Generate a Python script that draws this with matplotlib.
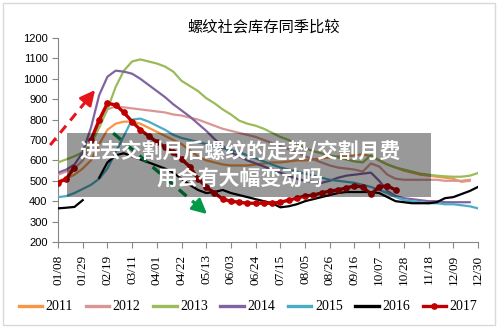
import numpy as np
import matplotlib.pyplot as plt
from matplotlib.patches import Rectangle

nan = np.nan

# weekly rebar social inventory (10k t), week 0 = 01/08
tick_labels = ['01/08', '01/29', '02/19', '03/11', '04/01', '04/22', '05/13', '06/03', '06/24',
               '07/15', '08/05', '08/26', '09/16', '10/07', '10/28', '11/18', '12/09', '12/30']

y2011 = [500, 510, 530, 560, 600, 680, 750, 780, 790, 790, 780, 760, 740, 720, 700, 680, 650,
         620, 600, 590, 580, 575, 575, 575, 580, 585, 590, 590, 595, 600, 600, 605, 610, 615,
         620, 620, 625, 630, 620, 600, 580, 565, 550, 540, 530, 525, 520, 515, 510, 495, 500, nan]
y2012 = [530, 545, 560, 600, 680, 780, 850, 865, 860, 855, 850, 845, 840, 835, 825, 820, 810,
         800, 785, 770, 755, 745, 735, 725, 715, 700, 685, 670, 655, 640, 620, 605, 590, 575,
         565, 560, 555, 545, 585, 570, 530, 510, 505, 505, 505, 505, 505, 500, 500, 500, 505, nan]
y2013 = [590, 605, 620, 640, 680, 760, 850, 960, 1040, 1085, 1095, 1085, 1075, 1060, 1035, 990,
         965, 940, 905, 880, 850, 825, 795, 780, 770, 755, 735, 715, 700, 680, 660, 645, 635,
         625, 615, 605, 595, 590, 625, 600, 580, 565, 555, 545, 535, 530, 525, 522, 520, 520,
         525, 538]
y2014 = [540, 555, 580, 640, 760, 920, 1010, 1040, 1035, 1025, 1000, 970, 940, 910, 875, 845,
         815, 780, 745, 705, 670, 640, 620, 600, 585, 570, 555, 540, 525, 510, 500, 495, 490,
         500, 515, 525, 530, 535, 540, 500, 450, 425, 415, 410, 405, 400, 400, 395, 395, 395,
         395, nan]
y2015 = [420, 425, 440, 460, 480, 510, 560, 640, 720, 800, 805, 790, 770, 750, 725, 710, 700,
         690, 680, 670, 660, 650, 640, 625, 610, 595, 580, 565, 555, 545, 535, 525, 515, 505,
         500, 495, 490, 480, 470, 455, 440, 420, 405, 400, 395, 390, 390, 385, 385, 380, 375, 365]
y2016 = [365, 368, 372, 405, nan, 515, 590, 625, 635, 620, 605, 590, 575, 560, 540, 510, 480,
         455, 440, 445, 455, 440, 430, 420, 410, 400, 390, 370, 375, 385, 400, 410, 420, 430,
         440, 445, 445, 445, 445, 440, 420, 400, 395, 390, 390, 390, 395, 415, 420, 435, 450, 470]
y2017 = [490, 510, 565, nan, 700, 798, 880, 872, 835, 790, 750, 720, 690, 665, 640, 605, 570,
         510, 470, 440, 410, 400, 395, 390, 390, 390, 390, 395, 405, 415, 425, 430, 440, 450,
         455, 465, 475, 470, 435, 470, 475, 455] + [nan] * 10

years = ['2011', '2012', '2013', '2014', '2015', '2016', '2017']
colors = ['#F79646', '#DA9694', '#9BBB59', '#8064A2', '#4BACC6', '#000000', '#C00000']

fig = plt.figure(figsize=(5.0, 3.31), dpi=100)
ax = fig.add_axes([58 / 500, 1 - 242 / 331, 420 / 500, 204 / 331])

weeks = np.arange(52)
series = [y2011, y2012, y2013, y2014, y2015, y2016, y2017]
for yr, vals, c in zip(years, series, colors):
    if yr == '2017':
        ax.plot(weeks, vals, color=c, lw=2.4, marker='o', ms=3.8, label=yr, zorder=4)
    else:
        ax.plot(weeks, vals, color=c, lw=1.6, label=yr, zorder=3)

ax.set_xlim(0, 51)
ax.set_ylim(200, 1200)
ax.set_yticks(np.arange(200, 1201, 100))
ax.set_xticks(np.arange(0, 52, 3))
ax.set_xticklabels(tick_labels, rotation=90, family='Liberation Serif', fontsize=9.5)
for lab in ax.get_yticklabels():
    lab.set_family('Liberation Sans')
    lab.set_fontsize(8)
for s in ['top', 'right']:
    ax.spines[s].set_visible(False)
for s in ['left', 'bottom']:
    ax.spines[s].set_color('#868686')
ax.tick_params(axis='both', colors='#868686', length=4, labelcolor='black')
ax.tick_params(axis='x', pad=5)

# trend arrows
head = dict(arrowstyle='-|>,head_length=0.9,head_width=0.45', lw=2, shrinkA=0, shrinkB=0)
red_start, red_tip = (-0.95, 675), (4.5, 945)
ax.plot([red_start[0], 3.6], [red_start[1], 900], ls=(0, (3, 2.2)), color='#E8141B', lw=2.2,
        clip_on=False, zorder=6)
ax.annotate('', xy=red_tip, xytext=(3.5, 895), arrowprops=dict(color='#E8141B', **head),
            annotation_clip=False, zorder=6)
green_start, green_tip = (6.7, 734), (18.1, 337)
ax.plot([green_start[0], 16.9], [green_start[1], 380], ls=(0, (3, 2.2)), color='#009A49', lw=2.4,
        zorder=6)
ax.annotate('', xy=green_tip, xytext=(16.8, 383), arrowprops=dict(color='#009A49', **head),
            zorder=6)

fig.text(263.5 / 500, 1 - 27 / 331, '螺纹社会库存同季比较', ha='center', va='center', fontsize=11,
         family=['Noto Sans CJK SC', 'DejaVu Sans'])

leg = fig.legend(loc='center', bbox_to_anchor=(248 / 500, 1 - 307 / 331), ncol=7, frameon=False,
                 handlelength=1.7, handletextpad=0.25, columnspacing=0.9,
                 prop={'family': 'Liberation Serif', 'size': 10})
for h in leg.get_lines():
    h.set_linewidth(2.4)

# caption banner
fig.add_artist(Rectangle((67 / 500, 1 - 197 / 331), 364 / 500, 64 / 331, transform=fig.transFigure,
                         facecolor='black', alpha=0.4, edgecolor='none', zorder=10))
cjk = ['Noto Sans CJK SC', 'DejaVu Sans']
fig.text(240 / 500, 1 - 151 / 331, '进去交割月后螺纹的走势/交割月费', ha='center', va='center',
         color='white', fontsize=15, fontweight='bold', family=cjk, zorder=11)
fig.text(240 / 500, 1 - 178 / 331, '用会有大幅变动吗', ha='center', va='center',
         color='white', fontsize=15, fontweight='bold', family=cjk, zorder=11)

fig.add_artist(Rectangle((3 / 500, 1 - 325 / 331), 492 / 500, 322 / 331, transform=fig.transFigure,
                         fill=False, edgecolor='#D9D9D9', lw=1))

fig.savefig('out.png', dpi=100)
